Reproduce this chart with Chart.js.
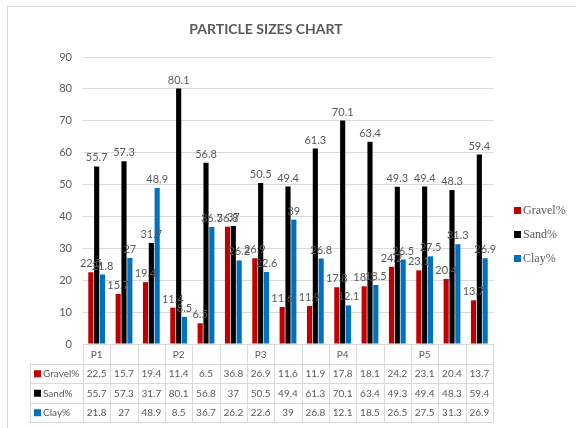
<!DOCTYPE html>
<html lang="en">
<head>
    <meta charset="UTF-8">
    <title>Particle sizes chart</title>
    <script src="https://cdn.jsdelivr.net/npm/chart.js"></script>
    <style>
        html, body { margin: 0; padding: 0; background: #fff; }
        #wrap { width: 576px; height: 428px; }
    </style>
</head>
<body>
<div id="wrap">
    <canvas id="particles"></canvas>
</div>

<script>
    const labels = ['P1', '', '', 'P2', '', '', 'P3', '', '', 'P4', '', '', 'P5', '', ''];
    const gravel = [22.5, 15.7, 19.4, 11.4, 6.5, 36.8, 26.9, 11.6, 11.9, 17.8, 18.1, 24.2, 23.1, 20.4, 13.7];
    const sand = [55.7, 57.3, 31.7, 80.1, 56.8, 37, 50.5, 49.4, 61.3, 70.1, 63.4, 49.3, 49.4, 48.3, 59.4];
    const clay = [21.8, 27, 48.9, 8.5, 36.7, 26.2, 22.6, 39, 26.8, 12.1, 18.5, 26.5, 27.5, 31.3, 26.9];
    const seriesNames = ['Gravel%', 'Sand%', 'Clay%'];
    const colors = ['#c00000', '#000000', '#0070c0'];

    const grey = '#595959';
    const lineGrey = '#d9d9d9';

    // title, bar labels, data table and legend drawn on top of the chart
    const extras = {
        id: 'extras',
        afterDraw(chart) {
            const ctx = chart.ctx;
            const area = chart.chartArea;
            const xs = chart.scales.x;
            const n = labels.length;
            const colW = (area.right - area.left) / n;
            ctx.save();

            // frame
            ctx.strokeStyle = lineGrey;
            ctx.lineWidth = 1;
            ctx.strokeRect(7.5, 6.5, 700, 600);

            // title
            ctx.fillStyle = grey;
            ctx.font = 'bold 14px Lato';
            ctx.textAlign = 'center';
            ctx.textBaseline = 'middle';
            ctx.fillText('PARTICLE SIZES CHART', 266, 29);

            // value labels above the bars
            ctx.font = '11px Lato';
            ctx.textBaseline = 'bottom';
            chart.data.datasets.forEach((ds, i) => {
                const meta = chart.getDatasetMeta(i);
                meta.data.forEach((bar, j) => {
                    ctx.fillText(String(ds.data[j]), bar.x, bar.y - 3);
                });
            });

            // data table
            const top = area.bottom;
            const rowH = 19.5;
            const tableLeft = 30;
            ctx.strokeStyle = lineGrey;
            ctx.beginPath();
            ctx.moveTo(area.left, top + 0.5);
            ctx.lineTo(area.right, top + 0.5);
            for (let r = 1; r <= 4; r++) {
                const y = Math.round(top + r * rowH) + 0.5;
                ctx.moveTo(tableLeft, y);
                ctx.lineTo(area.right, y);
            }
            ctx.moveTo(tableLeft + 0.5, top + rowH);
            ctx.lineTo(tableLeft + 0.5, top + 4 * rowH);
            for (let j = 0; j <= n; j++) {
                const x = Math.round(area.left + j * colW) + 0.5;
                ctx.moveTo(x, top);
                ctx.lineTo(x, top + 4 * rowH);
            }
            ctx.stroke();

            ctx.fillStyle = grey;
            ctx.font = '10px Lato';
            ctx.textBaseline = 'middle';
            ctx.textAlign = 'center';
            labels.forEach((lab, j) => {
                ctx.fillText(lab, xs.getPixelForValue(j), top + rowH / 2 + 1);
            });
            chart.data.datasets.forEach((ds, i) => {
                const yc = top + (i + 1.5) * rowH + 1;
                ctx.textAlign = 'center';
                ctx.fillStyle = grey;
                ds.data.forEach((v, j) => {
                    ctx.fillText(String(v), xs.getPixelForValue(j), yc);
                });
                ctx.fillStyle = colors[i];
                ctx.fillRect(tableLeft + 4, yc - 4, 7, 7);
                ctx.fillStyle = grey;
                ctx.textAlign = 'left';
                ctx.fillText(seriesNames[i], tableLeft + 13, yc);
            });

            // legend on the right
            ctx.font = '12px "Liberation Serif"';
            seriesNames.forEach((name, i) => {
                const yc = 211 + i * 24;
                ctx.fillStyle = colors[i];
                ctx.fillRect(514, yc - 4, 7, 7);
                ctx.fillStyle = grey;
                ctx.textAlign = 'left';
                ctx.fillText(name, 523, yc);
            });

            ctx.restore();
        }
    };

    const chart = new Chart(document.getElementById('particles').getContext('2d'), {
        type: 'bar',
        data: {
            labels: labels,
            datasets: [
                { label: seriesNames[0], data: gravel, backgroundColor: colors[0] },
                { label: seriesNames[1], data: sand, backgroundColor: colors[1] },
                { label: seriesNames[2], data: clay, backgroundColor: colors[2] }
            ]
        },
        options: {
            responsive: true,
            maintainAspectRatio: false,
            animation: false,
            datasets: {
                bar: { categoryPercentage: 0.64, barPercentage: 0.88 }
            },
            layout: {
                padding: { top: 57, bottom: 84, left: 0, right: 83 }
            },
            plugins: {
                legend: { display: false },
                title: { display: false },
                tooltip: { enabled: false }
            },
            scales: {
                x: {
                    display: false
                },
                y: {
                    min: 0,
                    max: 90,
                    ticks: {
                        stepSize: 10,
                        color: grey,
                        padding: 11,
                        font: { family: 'Lato', size: 11 }
                    },
                    grid: { color: lineGrey, drawTicks: false },
                    border: { display: false },
                    afterFit(scale) { scale.width = 83; }
                }
            }
        },
        plugins: [extras]
    });
</script>
</body>
</html>
